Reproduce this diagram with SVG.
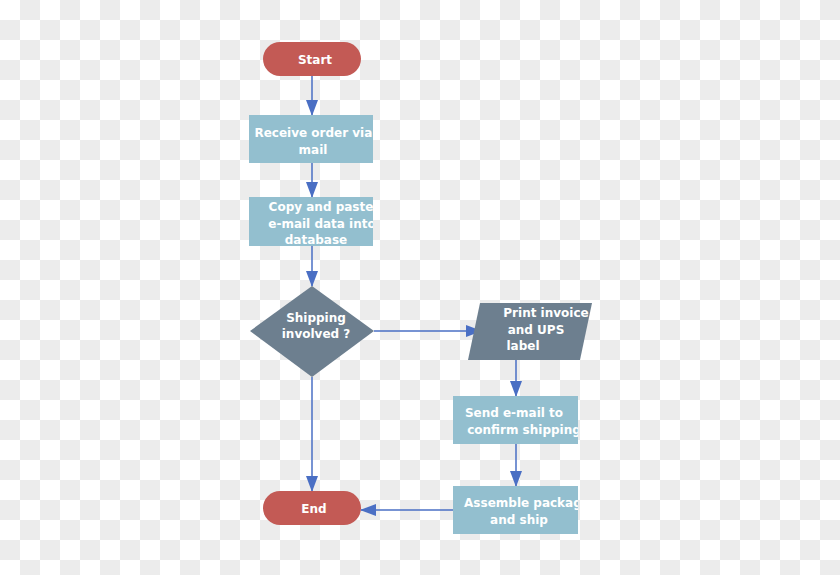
<svg xmlns="http://www.w3.org/2000/svg" width="840" height="575" viewBox="0 0 840 575">
<defs>
<pattern id="chk" width="40" height="40" patternUnits="userSpaceOnUse">
<rect width="40" height="40" fill="#ffffff"/>
<rect x="20" y="0" width="20" height="20" fill="#ececec"/>
<rect x="0" y="20" width="20" height="20" fill="#ececec"/>
</pattern>
<marker id="arr" markerWidth="16" markerHeight="12" refX="15" refY="6" orient="auto" markerUnits="userSpaceOnUse">
<path d="M0,0 L16,6 L0,12 Z" fill="#4a6fc4"/>
</marker>
<clipPath id="c1"><rect x="249" y="115" width="124" height="48"/></clipPath>
<clipPath id="c2"><rect x="249" y="197" width="124" height="49"/></clipPath>
<clipPath id="c3"><rect x="453" y="396" width="125" height="48"/></clipPath>
<clipPath id="c4"><rect x="453" y="486" width="125" height="48"/></clipPath>
</defs>
<style>
text{font-family:"DejaVu Sans",sans-serif;font-weight:bold;font-size:12px;fill:#ffffff;text-anchor:middle}
.term{fill:#c35a55}
.proc{fill:#93bfcf}
.dec{fill:#6d7f8f}
.conn path{fill:none;stroke:#4a6fc4;stroke-width:1.5;marker-end:url(#arr)}
</style>
<rect width="840" height="575" fill="url(#chk)"/>
<g class="conn">
<path d="M312,76 V115"/>
<path d="M312,163 V197"/>
<path d="M312,246 V286"/>
<path d="M374,331 H481"/>
<path d="M516,360 V396"/>
<path d="M516,444 V486"/>
<path d="M312,377 V491"/>
<path d="M453,510 H361"/>
</g>
<g id="start"><rect class="term" x="263" y="42" width="98" height="34" rx="17"/><text x="315" y="64">Start</text></g>
<g id="receive"><rect class="proc" x="249" y="115" width="124" height="48"/><g clip-path="url(#c1)"><text x="322" y="137">Receive order via e-</text><text x="313" y="154">mail</text></g></g>
<g id="copy"><rect class="proc" x="249" y="197" width="124" height="49"/><g clip-path="url(#c2)"><text x="321" y="211">Copy and paste</text><text x="322" y="228">e-mail data into</text><text x="316" y="244">database</text></g></g>
<g id="shipping"><path class="dec" d="M312,286 L374,331 L312,377 L250,331 Z"/><text x="316" y="322">Shipping</text><text x="316" y="338">involved  ?</text></g>
<g id="print"><path class="dec" d="M480,303 L592,303 L580,360 L468,360 Z"/><text x="546" y="317">Print invoice</text><text x="536" y="334">and  UPS</text><text x="523" y="350">label</text></g>
<g id="send"><rect class="proc" x="453" y="396" width="125" height="48"/><g clip-path="url(#c3)"><text x="514" y="417">Send e-mail to</text><text x="524" y="434">confirm shipping</text></g></g>
<g id="assemble"><rect class="proc" x="453" y="486" width="125" height="48"/><g clip-path="url(#c4)"><text x="527" y="507">Assemble package</text><text x="519" y="524">and ship</text></g></g>
<g id="end"><rect class="term" x="263" y="491" width="98" height="34" rx="17"/><text x="314" y="513">End</text></g>
</svg>
